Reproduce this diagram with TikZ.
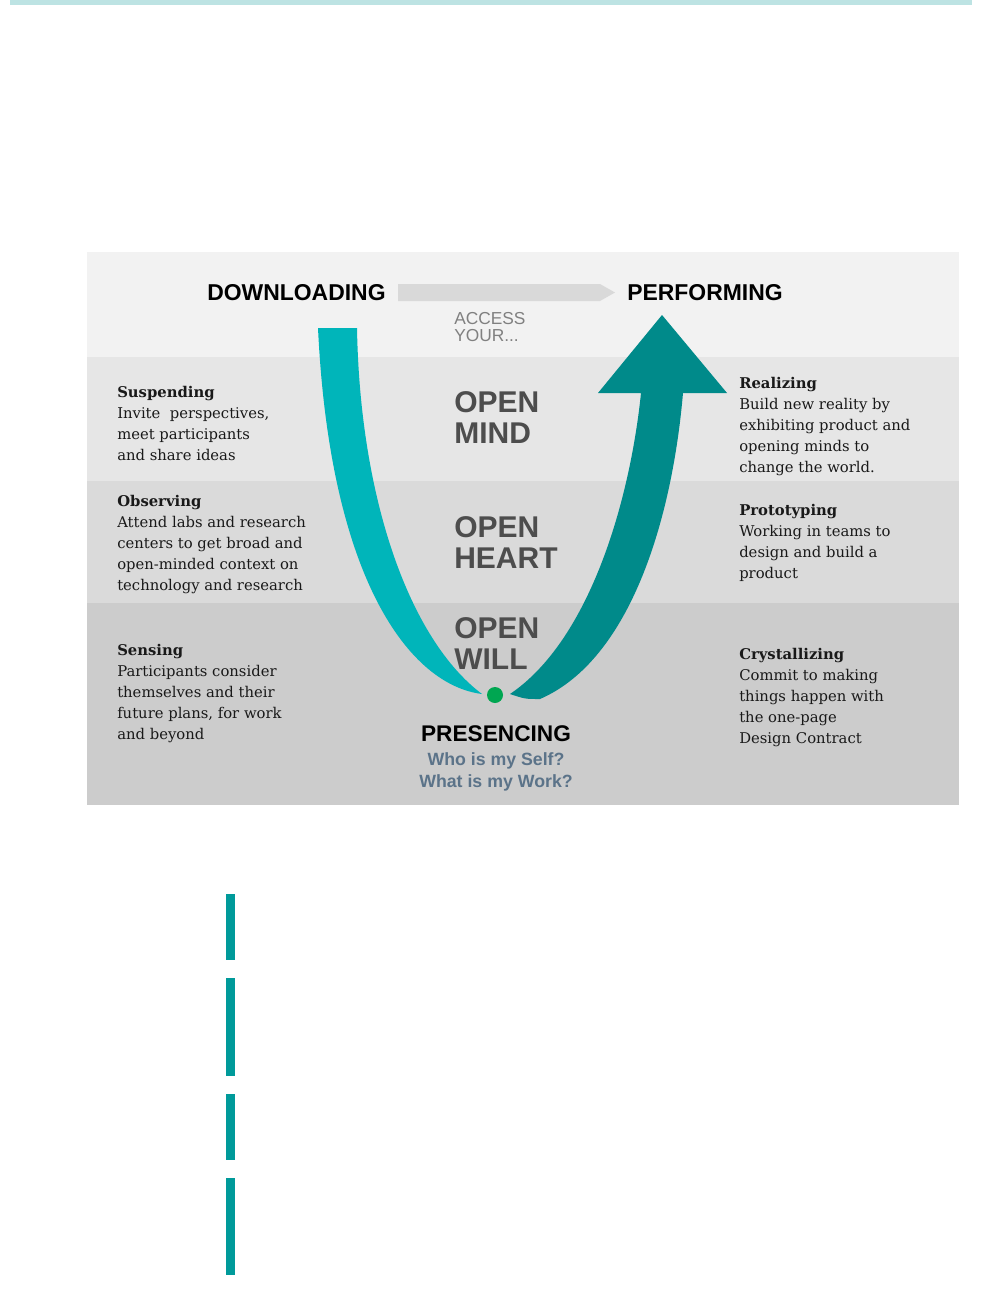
\documentclass[tikz,border=0pt]{standalone}
\usepackage{fontspec}
\usetikzlibrary{positioning}
\newfontfamily\headfont{Liberation Sans}
\newfontfamily\bodyfont{DejaVu Serif}
\definecolor{topbar}{HTML}{BDE3E3}
\definecolor{bandA}{HTML}{F2F2F2}
\definecolor{bandB}{HTML}{E6E6E6}
\definecolor{bandC}{HTML}{DADADA}
\definecolor{bandD}{HTML}{CCCCCC}
\definecolor{downcol}{HTML}{00B5BA}
\definecolor{upcol}{HTML}{008A8A}
\definecolor{flowcol}{HTML}{D9D9D9}
\definecolor{dotcol}{HTML}{00A651}
\definecolor{opencol}{HTML}{4D4D4D}
\definecolor{askcol}{HTML}{5B7389}
\definecolor{barcol}{HTML}{009A9A}
\tikzset{
    headtext/.style={anchor=base west, inner sep=0, font=\headfont\bfseries\fontsize{17.2}{20}\selectfont},
    opentext/.style={anchor=north west, align=left, inner sep=0, text=opencol,
        font=\headfont\bfseries\fontsize{22.5}{23.3}\selectfont},
    stagetext/.style={anchor=north west, align=left, inner sep=0, text=black!90,
        font=\bodyfont\fontsize{11.1}{15.75}\selectfont},
}
\begin{document}
\begin{tikzpicture}[x=0.75pt,y=-0.75pt]
    \useasboundingbox (0,0) rectangle (981,1293);

    % Draw top rule.
    \fill[topbar] (10,0) rectangle (972,5);

    % Draw bands.
    \foreach \ya/\yb/\c in {252/357/bandA,357/481/bandB,481/603/bandC,603/805/bandD}
        \fill[\c] (87,\ya) rectangle (959,\yb);

    % Draw flow arrow.
    \fill[flowcol] (398,284) -- (600,284) -- (615,292.5) -- (600,301) -- (398,301) -- cycle;
    \node[headtext] (down) at (207,300) {DOWNLOADING};
    \node[headtext] (perf) at (627,300) {PERFORMING};
    \node[anchor=north west, align=left, inner sep=0, text=black!50,
        font=\headfont\fontsize{13}{12.75}\selectfont] (access) at (454,312) {ACCESS\\YOUR...};

    % Draw the U.
    \fill[downcol] (318,328) -- (357,328) .. controls (360,500) and (410,640) .. (482,694)
        .. controls (410,685) and (330,580) .. (318,328) -- cycle;
    \fill[upcol] (510,694) .. controls (590,640) and (630,500) .. (641,393) -- (598,393)
        -- (662,315) -- (727,393) -- (683,393) .. controls (672,520) and (630,660) .. (540,699)
        .. controls (525,699) .. (510,694) -- cycle;
    \fill[dotcol] (495,695) circle (8);

    % Open levels.
    \node[opentext] (mind) at (454,391) {OPEN\\MIND};
    \node[opentext] (heart) at (454,516) {OPEN\\HEART};
    \node[opentext] (will) at (454,617) {OPEN\\WILL};

    % Presencing.
    \node[anchor=base, inner sep=0, font=\headfont\bfseries\fontsize{17}{20}\selectfont] (pres) at (496,741) {PRESENCING};
    \node[anchor=north, align=center, inner sep=0, text=askcol,
        font=\headfont\bfseries\fontsize{13.3}{16.5}\selectfont] (ask) at (496,752) {Who is my Self?\\What is my Work?};

    % Left stages.
    \node[stagetext] (susp) at (117,386) {\textbf{Suspending}\\Invite\ \ perspectives,\\meet participants\\and share ideas};
    \node[stagetext] (obs) at (117,495) {\textbf{Observing}\\Attend labs and research\\centers to get broad and\\open-minded context on\\technology and research};
    \node[stagetext] (sens) at (117,644) {\textbf{Sensing}\\Participants consider\\themselves and their\\future plans, for work\\and beyond};

    % Right stages.
    \node[stagetext] (real) at (739,377) {\textbf{Realizing}\\Build new reality by\\exhibiting product and\\opening minds to\\change the world.};
    \node[stagetext] (proto) at (739,504) {\textbf{Prototyping}\\Working in teams to\\design and build a\\product};
    \node[stagetext] (crys) at (739,648) {\textbf{Crystallizing}\\Commit to making\\things happen with\\the one-page\\Design Contract};

    % Draw side bars.
    \foreach \ya/\yb in {894/960,978/1076,1094/1160,1178/1275}
        \fill[barcol] (226,\ya) rectangle (235,\yb);
\end{tikzpicture}
\end{document}
